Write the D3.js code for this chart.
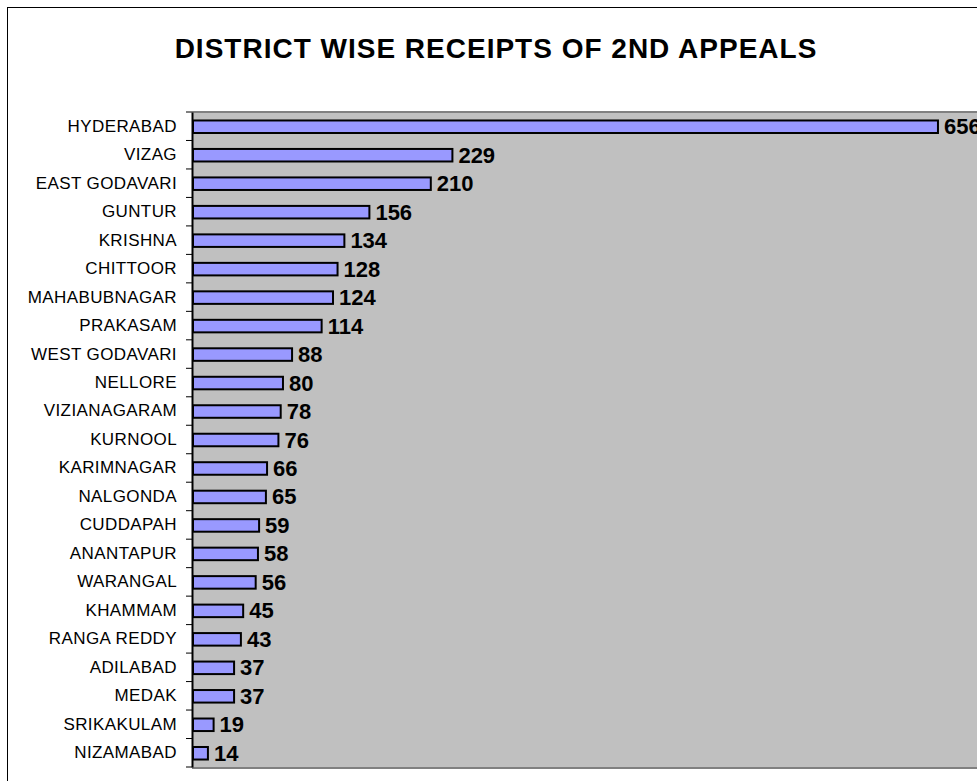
<!DOCTYPE html>
<html>
<head>
<meta charset="utf-8">
<script src="https://cdn.jsdelivr.net/npm/d3@7"></script>
<style>
  body { margin: 0; background: #fff; }
  svg { display: block; font-family: Arial, "Liberation Sans", sans-serif; }
</style>
</head>
<body>
<svg width="977" height="781"></svg>
<script>
// district wise receipts of 2nd appeals
var districts = ["HYDERABAD", "VIZAG", "EAST GODAVARI", "GUNTUR", "KRISHNA", "CHITTOOR",
  "MAHABUBNAGAR", "PRAKASAM", "WEST GODAVARI", "NELLORE", "VIZIANAGARAM", "KURNOOL",
  "KARIMNAGAR", "NALGONDA", "CUDDAPAH", "ANANTAPUR", "WARANGAL", "KHAMMAM",
  "RANGA REDDY", "ADILABAD", "MEDAK", "SRIKAKULAM", "NIZAMABAD"]
var receipts = [656, 229, 210, 156, 134, 128, 124, 114, 88, 80, 78, 76, 66, 65, 59, 58, 56, 45, 43, 37, 37, 19, 14]
var xMax = 700

var svg = d3.select('svg')
var plotL = 192, plotT = 112, plotB = 767, plotR = 988

// chart frame (runs off the window on the right / bottom)
svg.append('rect')
.attr('x', 7.5).attr('y', 7.5)
.attr('width', 1000).attr('height', 800)
.attr('fill', '#fff').attr('stroke', '#000').attr('stroke-width', 1)

svg.append('text')
.attr('x', 496).attr('y', 58)
.attr('text-anchor', 'middle')
.attr('font-size', 28).attr('font-weight', 'bold')
.attr('letter-spacing', 1)
.text('DISTRICT WISE RECEIPTS OF 2ND APPEALS')

var x = d3.scaleLinear().domain([0, xMax]).range([plotL, plotR])
var y = d3.scaleBand().domain(districts).range([plotT, plotB])

// plot area
svg.append('rect')
.attr('x', plotL).attr('y', plotT)
.attr('width', 900).attr('height', plotB - plotT)
.attr('fill', '#c0c0c0')
svg.append('line')
.attr('x1', plotL).attr('x2', 1000).attr('y1', plotT).attr('y2', plotT)
.attr('stroke', '#808080').attr('stroke-width', 2)
svg.append('line')
.attr('x1', plotL).attr('x2', 1000).attr('y1', plotB + 1).attr('y2', plotB + 1)
.attr('stroke', '#808080').attr('stroke-width', 2)

var bh = y.bandwidth() * 0.44
var data = districts.map(function (d, i) { return { name: d, value: receipts[i] } })

svg.selectAll('rect.bar')
.data(data)
.enter().append('rect')
.attr('class', 'bar')
.attr('x', x(0) + 1)
.attr('y', function (d) { return y(d.name) + y.bandwidth() / 2 - bh / 2 + 0.5 })
.attr('width', function (d) { return x(d.value) - x(0) - 1 })
.attr('height', bh)
.attr('fill', '#9999ff').attr('stroke', '#000').attr('stroke-width', 2)

svg.selectAll('text.val')
.data(data)
.enter().append('text')
.attr('class', 'val')
.attr('x', function (d) { return x(d.value) + 6 })
.attr('y', function (d) { return y(d.name) + y.bandwidth() / 2 + 8 })
.attr('font-size', 22).attr('font-weight', 'bold')
.text(function (d) { return d.value })

// category axis
var axis = svg.append('g')
.attr('transform', 'translate(' + plotL + ',0)')
.call(d3.axisLeft(y).tickSize(0).tickPadding(15))
axis.select('.domain').attr('stroke', '#000').attr('stroke-width', 2)
axis.selectAll('text')
.attr('font-size', 17).attr('letter-spacing', 0.4)
.attr('font-family', 'Arial, "Liberation Sans", sans-serif')
.attr('fill', '#000')

// tick marks sit between the categories
svg.selectAll('line.tick')
.data(d3.range(districts.length + 1))
.enter().append('line')
.attr('class', 'tick')
.attr('x1', plotL - 6).attr('x2', plotL)
.attr('y1', function (i) { return plotT + i * y.step() })
.attr('y2', function (i) { return plotT + i * y.step() })
.attr('stroke', '#000').attr('stroke-width', 1)
</script>
</body>
</html>
